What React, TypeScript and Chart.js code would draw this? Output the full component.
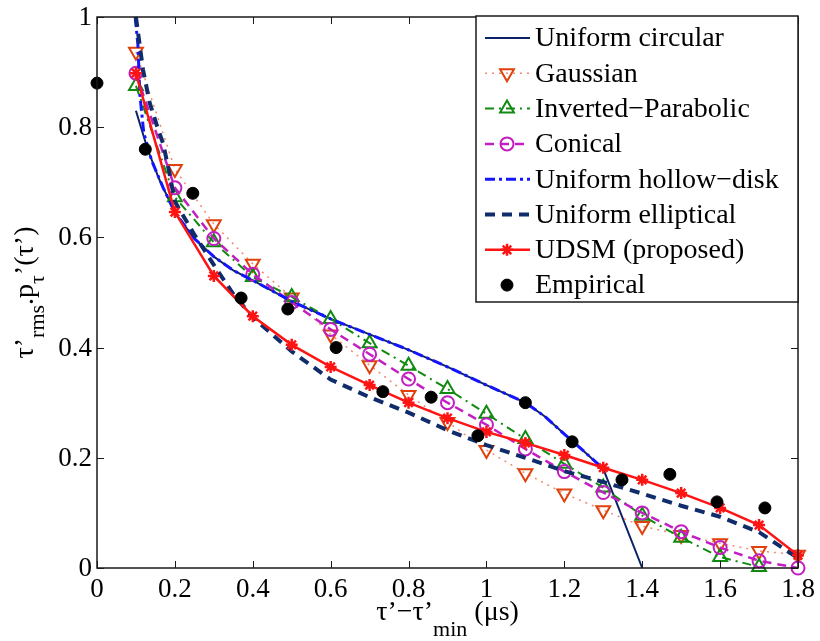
import React, { useEffect, useRef } from 'react';
import { Chart, registerables } from 'chart.js';

Chart.register(...registerables);

// ---------- data ----------
const xTicks = [0, 0.2, 0.4, 0.6, 0.8, 1, 1.2, 1.4, 1.6, 1.8];
const yTicks = [0, 0.2, 0.4, 0.6, 0.8, 1];

const modelX = [0.1, 0.2, 0.3, 0.4, 0.5, 0.6, 0.7, 0.8, 0.9, 1.0, 1.1, 1.2, 1.3, 1.4, 1.5, 1.6, 1.7, 1.8];

const circularX = [0.1, 0.13, 0.16, 0.2, 0.25, 0.3, 0.35, 0.4, 0.5, 0.6, 0.7, 0.8, 0.9, 1.0, 1.1, 1.15, 1.2, 1.25, 1.3, 1.4];
const circularY = [0.83, 0.76, 0.705, 0.645, 0.598, 0.565, 0.54, 0.522, 0.484, 0.452, 0.424, 0.396, 0.365, 0.332, 0.3, 0.275, 0.243, 0.212, 0.18, 0];

const gaussianY = [0.937, 0.724, 0.624, 0.552, 0.491, 0.424, 0.368, 0.314, 0.265, 0.214, 0.172, 0.135, 0.105, 0.076, 0.06, 0.045, 0.031, 0.024];

const parabolicX = [0.1, 0.2, 0.3, 0.4, 0.5, 0.6, 0.7, 0.8, 0.9, 1.0, 1.1, 1.2, 1.3, 1.4, 1.5, 1.6, 1.7];
const parabolicY = [0.875, 0.673, 0.591, 0.528, 0.492, 0.452, 0.408, 0.367, 0.325, 0.28, 0.234, 0.189, 0.146, 0.095, 0.055, 0.02, 0.002];

const conicalY = [0.898, 0.69, 0.598, 0.533, 0.482, 0.433, 0.388, 0.343, 0.3, 0.26, 0.216, 0.175, 0.137, 0.1, 0.066, 0.037, 0.013, 0.0];

const hollowX = [0.098, 0.105, 0.11, 0.12, 0.14, 0.17, 0.2, 0.25, 0.3, 0.35, 0.4, 0.5, 0.6, 0.7, 0.8, 0.9, 1.0, 1.1, 1.15, 1.2, 1.25, 1.3];
const hollowY = [1.0, 0.95, 0.86, 0.79, 0.74, 0.69, 0.645, 0.598, 0.565, 0.54, 0.522, 0.484, 0.452, 0.424, 0.396, 0.365, 0.332, 0.3, 0.275, 0.243, 0.212, 0.18];

const ellipticalX = [0.1, 0.118, 0.135, 0.155, 0.17, 0.185, 0.2, 0.25, 0.3, 0.35, 0.4, 0.5, 0.6, 0.7, 0.8, 0.9, 1.0, 1.1, 1.2, 1.3, 1.4, 1.5, 1.6, 1.7, 1.8];
const ellipticalY = [1.0, 0.905, 0.845, 0.8, 0.77, 0.72, 0.665, 0.605, 0.55, 0.497, 0.455, 0.393, 0.342, 0.31, 0.282, 0.25, 0.223, 0.2, 0.176, 0.156, 0.135, 0.113, 0.093, 0.065, 0.018];

const udsmY = [0.898, 0.646, 0.53, 0.457, 0.405, 0.365, 0.332, 0.3, 0.272, 0.247, 0.227, 0.205, 0.182, 0.16, 0.136, 0.109, 0.078, 0.023];

const empiricalX = [0, 0.124, 0.246, 0.37, 0.49, 0.614, 0.734, 0.858, 0.978, 1.1, 1.22, 1.348, 1.471, 1.592, 1.715];
const empiricalY = [0.88, 0.76, 0.68, 0.49, 0.47, 0.4, 0.32, 0.31, 0.24, 0.3, 0.229, 0.16, 0.17, 0.12, 0.109];

const labels = [
  'Uniform circular',
  'Gaussian',
  'Inverted\u2212Parabolic',
  'Conical',
  'Uniform hollow\u2212disk',
  'Uniform elliptical',
  'UDSM (proposed)',
  'Empirical',
];

const pts = (xs: number[], ys: number[]) => xs.map((x, i) => ({ x, y: ys[i] }));

const FONT = '"Liberation Serif"';

// ---------- marker drawing for the legend ----------
function drawMarker(ctx: CanvasRenderingContext2D, ds: any, x: number, y: number) {
  const style = ds.pointStyle;
  const r = ds.pointRadius;
  if (!r) return;
  ctx.save();
  ctx.setLineDash([]);
  ctx.lineWidth = ds.pointBorderWidth ?? 1;
  ctx.strokeStyle = ds.pointBorderColor;
  ctx.fillStyle = ds.pointBackgroundColor;
  ctx.beginPath();
  if (style === 'circle') {
    ctx.arc(x, y, r, 0, Math.PI * 2);
    ctx.fill();
    ctx.stroke();
  } else if (style === 'triangle') {
    let rad = ((ds.pointRotation || 0) * Math.PI) / 180;
    ctx.moveTo(x + Math.sin(rad) * r, y - Math.cos(rad) * r);
    rad += (2 * Math.PI) / 3;
    ctx.lineTo(x + Math.sin(rad) * r, y - Math.cos(rad) * r);
    rad += (2 * Math.PI) / 3;
    ctx.lineTo(x + Math.sin(rad) * r, y - Math.cos(rad) * r);
    ctx.closePath();
    ctx.fill();
    ctx.stroke();
  } else if (style === 'star') {
    for (let k = 0; k < 4; k++) {
      const a = (k * Math.PI) / 4;
      ctx.moveTo(x - Math.cos(a) * r, y - Math.sin(a) * r);
      ctx.lineTo(x + Math.cos(a) * r, y + Math.sin(a) * r);
    }
    ctx.stroke();
  }
  ctx.restore();
}

function drawPieces(
  ctx: CanvasRenderingContext2D,
  pieces: { t: string; sub?: boolean }[],
  startX: number,
  baseY: number,
  mainSize: number,
  subSize: number,
  subDrop: number
) {
  let x = startX;
  for (const p of pieces) {
    ctx.font = `${p.sub ? subSize : mainSize}px ${FONT}`;
    ctx.fillText(p.t, x, baseY + (p.sub ? subDrop : 0));
    x += ctx.measureText(p.t).width;
  }
}

function piecesWidth(ctx: CanvasRenderingContext2D, pieces: { t: string; sub?: boolean }[], mainSize: number, subSize: number) {
  let w = 0;
  for (const p of pieces) {
    ctx.font = `${p.sub ? subSize : mainSize}px ${FONT}`;
    w += ctx.measureText(p.t).width;
  }
  return w;
}

const matlabPlugin = {
  id: 'matlabDecor',
  afterDraw(chart: any) {
    const ctx: CanvasRenderingContext2D = chart.ctx;
    const { left, right, top, bottom } = chart.chartArea;
    const xs = chart.scales.x;
    const ys = chart.scales.y;
    ctx.save();

    // frame
    ctx.strokeStyle = '#1a1a1a';
    ctx.lineWidth = 1.5;
    ctx.setLineDash([]);
    ctx.strokeRect(left, top, right - left, bottom - top);

    // ticks inward
    const tl = 7;
    ctx.lineWidth = 1;
    ctx.beginPath();
    for (const v of xTicks) {
      const px = Math.round(xs.getPixelForValue(v)) + 0.5;
      ctx.moveTo(px, bottom);
      ctx.lineTo(px, bottom - tl);
      ctx.moveTo(px, top);
      ctx.lineTo(px, top + tl);
    }
    for (const v of yTicks) {
      const py = Math.round(ys.getPixelForValue(v)) + 0.5;
      ctx.moveTo(left, py);
      ctx.lineTo(left + tl, py);
      ctx.moveTo(right, py);
      ctx.lineTo(right - tl, py);
    }
    ctx.stroke();

    // tick labels
    ctx.fillStyle = '#000';
    ctx.font = `27px ${FONT}`;
    ctx.textAlign = 'center';
    ctx.textBaseline = 'alphabetic';
    for (const v of xTicks) {
      ctx.fillText(String(+v.toFixed(1)), xs.getPixelForValue(v), 597);
    }
    ctx.textAlign = 'right';
    ctx.textBaseline = 'middle';
    for (const v of yTicks) {
      ctx.fillText(String(+v.toFixed(1)), 92, ys.getPixelForValue(v) + 1);
    }

    // x title
    ctx.textAlign = 'left';
    ctx.textBaseline = 'alphabetic';
    const xPieces = [{ t: '\u03c4\u2019\u2212\u03c4\u2019' }, { t: 'min', sub: true }, { t: ' (\u03bcs)' }];
    const xw = piecesWidth(ctx, xPieces, 28, 22);
    drawPieces(ctx, xPieces, (left + right) / 2 - xw / 2, 620, 28, 22, 16);

    // y title (rotated)
    const yPieces = [
      { t: '\u03c4\u2019' },
      { t: 'rms', sub: true },
      { t: '.p' },
      { t: '\u03c4', sub: true },
      { t: '\u2019(\u03c4\u2019)' },
    ];
    const yw = piecesWidth(ctx, yPieces, 28, 22);
    ctx.save();
    ctx.translate(33, (top + bottom) / 2);
    ctx.rotate(-Math.PI / 2);
    drawPieces(ctx, yPieces, -yw / 2, 0, 28, 22, 11);
    ctx.restore();

    // legend box
    const bx = 476, by = 16, bw = right - 476, bh = 286;
    ctx.fillStyle = '#fff';
    ctx.fillRect(bx, by, bw, bh);
    ctx.strokeStyle = '#1a1a1a';
    ctx.lineWidth = 1.5;
    ctx.strokeRect(bx, by, bw, bh);

    const datasets = chart.data.datasets;
    datasets.forEach((ds: any, i: number) => {
      const cy = 38 + i * 35.3;
      if (ds.showLine) {
        ctx.save();
        ctx.strokeStyle = ds.borderColor;
        ctx.lineWidth = ds.borderWidth;
        ctx.setLineDash(ds.borderDash || []);
        ctx.beginPath();
        ctx.moveTo(485, cy);
        ctx.lineTo(530, cy);
        ctx.stroke();
        ctx.restore();
      }
      drawMarker(ctx, ds, 507, cy);
      ctx.fillStyle = '#000';
      ctx.font = `28px ${FONT}`;
      ctx.textAlign = 'left';
      ctx.textBaseline = 'middle';
      ctx.fillText(ds.label, 535, cy + 1);
    });

    ctx.restore();
  },
};

export default function App() {
  const ref = useRef<HTMLCanvasElement>(null);

  useEffect(() => {
    if (!ref.current) return;
    let chart: Chart | null = null;
    let cancelled = false;
    const common = { showLine: true, clip: 14, tension: 0 };
    const datasets: any[] = [
      {
        ...common,
        label: labels[0],
        data: pts(circularX, circularY),
        borderColor: '#0c2266',
        borderWidth: 2,
        pointRadius: 0,
        order: 7,
      },
      {
        ...common,
        label: labels[1],
        data: pts(modelX, gaussianY),
        borderColor: '#f28a72',
        borderWidth: 1.5,
        borderDash: [2, 5],
        pointStyle: 'triangle',
        pointRotation: 180,
        pointRadius: 8,
        pointBorderWidth: 2,
        pointBorderColor: '#e0400c',
        pointBackgroundColor: 'rgba(255,255,255,0)',
        order: 6,
      },
      {
        ...common,
        label: labels[2],
        data: pts(parabolicX, parabolicY),
        borderColor: '#108a10',
        borderWidth: 2,
        borderDash: [9, 5, 2, 5],
        pointStyle: 'triangle',
        pointRadius: 8,
        pointBorderWidth: 2,
        pointBorderColor: '#108a10',
        pointBackgroundColor: 'rgba(255,255,255,0)',
        order: 5,
      },
      {
        ...common,
        label: labels[3],
        data: pts(modelX, conicalY),
        borderColor: '#c21fc2',
        borderWidth: 2.5,
        borderDash: [9, 6],
        pointStyle: 'circle',
        pointRadius: 6.5,
        pointBorderWidth: 2,
        pointBorderColor: '#c21fc2',
        pointBackgroundColor: 'rgba(255,255,255,0)',
        order: 4,
      },
      {
        ...common,
        label: labels[4],
        data: pts(hollowX, hollowY),
        borderColor: '#1414ff',
        borderWidth: 3,
        borderDash: [10, 4, 3, 4],
        pointRadius: 0,
        order: 3,
      },
      {
        ...common,
        label: labels[5],
        data: pts(ellipticalX, ellipticalY),
        borderColor: '#102c6a',
        borderWidth: 4,
        borderDash: [10, 7],
        pointRadius: 0,
        order: 2,
      },
      {
        ...common,
        label: labels[6],
        data: pts(modelX, udsmY),
        borderColor: '#ff1414',
        borderWidth: 2.5,
        pointStyle: 'star',
        pointRadius: 6,
        pointBorderWidth: 2.5,
        pointBorderColor: '#ff1414',
        pointBackgroundColor: '#ff1414',
        order: 1,
      },
      {
        ...common,
        showLine: false,
        label: labels[7],
        data: pts(empiricalX, empiricalY),
        borderColor: '#000',
        pointStyle: 'circle',
        pointRadius: 6,
        pointBorderWidth: 1,
        pointBorderColor: '#000',
        pointBackgroundColor: '#000',
        order: 0,
      },
    ];

    const build = () => {
      if (cancelled || !ref.current) return;
      chart = new Chart(ref.current, {
        type: 'scatter',
        data: { datasets },
        options: {
          responsive: false,
          animation: false,
          devicePixelRatio: 1,
          layout: { padding: { top: 17, right: 22, left: 0, bottom: 0 } },
          plugins: {
            legend: { display: false },
            tooltip: { enabled: false },
          },
          scales: {
            x: {
              type: 'linear',
              min: 0,
              max: 1.8,
              ticks: { display: false, stepSize: 0.2 },
              grid: { display: false },
              border: { display: false },
              afterFit: (s: any) => {
                s.height = 73;
              },
            },
            y: {
              type: 'linear',
              min: 0,
              max: 1,
              ticks: { display: false, stepSize: 0.2 },
              grid: { display: false },
              border: { display: false },
              afterFit: (s: any) => {
                s.width = 97;
              },
            },
          },
        } as any,
        plugins: [matlabPlugin],
      });
    };

    const fontsApi: any = (document as any).fonts;
    if (fontsApi && fontsApi.load) {
      Promise.all([
        fontsApi.load('28px "Liberation Serif"'),
        fontsApi.load('22px "Liberation Serif"'),
      ])
        .catch(() => null)
        .then(build);
    } else {
      build();
    }

    return () => {
      cancelled = true;
      if (chart) chart.destroy();
    };
  }, []);

  return (
    <div style={{ position: 'fixed', left: 0, top: 0, width: 820, height: 641, background: '#fff' }}>
      <span style={{ position: 'absolute', left: -9999, fontFamily: '"Liberation Serif"' }}>Aa</span>
      <canvas ref={ref} width={820} height={641} style={{ display: 'block', width: 820, height: 641 }} />
    </div>
  );
}
